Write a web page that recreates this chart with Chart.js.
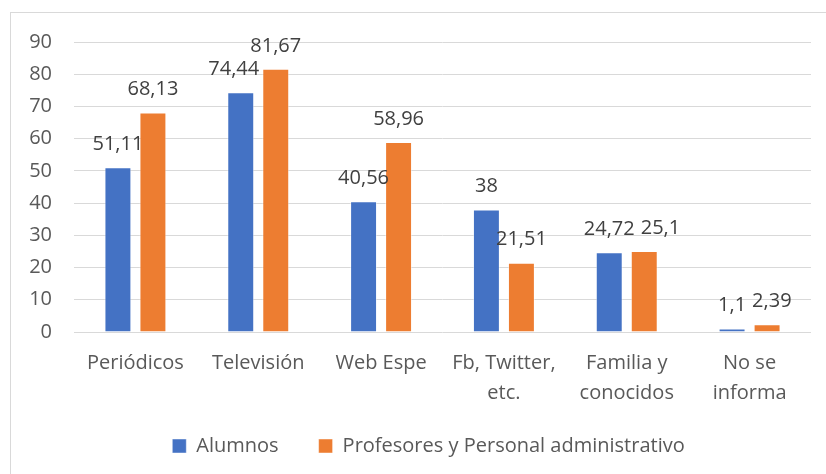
<!DOCTYPE html>
<html>
<head>
<meta charset="utf-8">
<script src="https://cdn.jsdelivr.net/npm/chart.js@4"></script>
<style>
  html, body { margin: 0; padding: 0; background: #fff; }
  #wrap { position: relative; width: 826px; height: 474px; overflow: hidden; }
  #frame { position: absolute; left: 10px; top: 12px; width: 840px; height: 490px; border: 1px solid #D9D9D9; box-sizing: border-box; }
  canvas { position: absolute; left: 0; top: 0; }
</style>
</head>
<body>
<div id="wrap">
  <div id="frame"></div>
  <canvas id="chart" width="826" height="474"></canvas>
</div>
<script>
// medios por los que se informa (porcentajes)
const categories = ["Periódicos", "Televisión", "Web Espe", ["Fb, Twitter,", "etc."], ["Familia y", "conocidos"], ["No se", "informa"]];
const alumnos = [51.11, 74.44, 40.56, 38, 24.72, 1.1];
const profesores = [68.13, 81.67, 58.96, 21.51, 25.1, 2.39];
const seriesNames = ["Alumnos", "Profesores y Personal administrativo"];
const yTicks = { min: 0, max: 90, step: 10 };

const FONT = "'Open Sans'";
const FSIZE = 20;
const fmt = v => String(v).replace(".", ",");

// etiquetas de datos sobre cada barra; si dos se pisan se separan un poco
const valueLabels = {
  id: "valueLabels",
  afterLayout(chart){
    // la leyenda va un poco más arriba y a la derecha que donde la deja el layout
    const lg = chart.legend;
    lg.top -= 16; lg.bottom -= 16;
    lg.left += 11; lg.right += 11;
  },
  afterDatasetsDraw(chart){
    const ctx = chart.ctx;
    ctx.save();
    ctx.font = `${FSIZE}px ${FONT}`;
    ctx.fillStyle = "#404040";
    ctx.textBaseline = "middle";
    ctx.textAlign = "left";
    const n = chart.data.labels.length;
    for(let i=0;i<n;i++){
      const items = chart.data.datasets.map((ds, d) => {
        const bar = chart.getDatasetMeta(d).data[i];
        const txt = fmt(ds.data[i]);
        const w = ctx.measureText(txt).width;
        return { txt, w, x: bar.x - w/2, y: bar.y - 23 };
      });
      const [a, b] = items;
      const dy = a.y - b.y;
      if(Math.abs(dy) < 8){
        if(b.x < a.x + a.w + 6) b.x = a.x + a.w + 6;
      } else if(dy > 0 && dy < 26 && a.x + a.w > b.x){
        a.x -= 7;
      } else if(dy < 0 && dy > -26 && a.x + a.w > b.x){
        b.x += 7;
      }
      items.forEach(it => ctx.fillText(it.txt, it.x, it.y));
    }
    ctx.restore();
  }
};

new Chart(document.getElementById("chart"), {
  type: "bar",
  data: {
    labels: categories,
    datasets: [
      { label: seriesNames[0], data: alumnos, backgroundColor: "#4472C4", borderColor: "rgba(255,255,255,0.45)", borderWidth: 1, categoryPercentage: 0.57, barPercentage: 0.77 },
      { label: seriesNames[1], data: profesores, backgroundColor: "#ED7D31", borderColor: "rgba(255,255,255,0.45)", borderWidth: 1, categoryPercentage: 0.57, barPercentage: 0.77 }
    ]
  },
  options: {
    responsive: false,
    animation: false,
    layout: { padding: { left: 24, right: 15, top: 42, bottom: -8 } },
    scales: {
      x: {
        grid: { display: false },
        border: { display: false },
        ticks: { color: "#595959", font: { family: FONT, size: FSIZE, lineHeight: 1.5 }, padding: 8, maxRotation: 0, autoSkip: false },
        afterFit: s => { s.height = 80; }
      },
      y: {
        min: yTicks.min, max: yTicks.max,
        grid: { color: "#D9D9D9", lineWidth: 1, drawTicks: false },
        border: { display: false },
        ticks: { stepSize: yTicks.step, color: "#595959", font: { family: FONT, size: FSIZE }, padding: 22 },
        afterFit: s => { s.width = 50; }
      }
    },
    plugins: {
      legend: {
        position: "bottom",
        labels: { color: "#595959", font: { family: FONT, size: FSIZE }, boxWidth: 14, boxHeight: 14, padding: 40 }
      },
      tooltip: { enabled: false }
    }
  },
  plugins: [valueLabels]
});
</script>
</body>
</html>
